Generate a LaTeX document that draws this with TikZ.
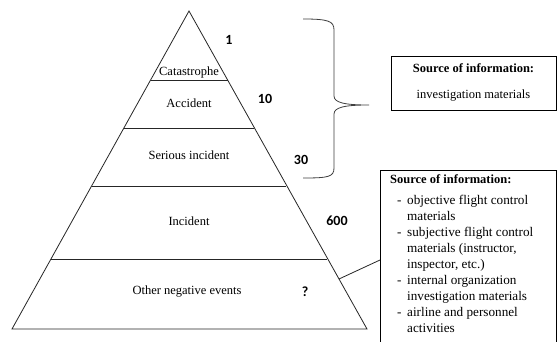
\documentclass[tikz,border=0pt]{standalone}
\usepackage{fontspec}
\setmainfont{Liberation Serif}
\newfontfamily\numfont{Carlito}
\begin{document}
\begin{tikzpicture}[x=1pt,y=-1pt,
  lvl/.style={font=\fontsize{12.5}{15}\selectfont, inner sep=0pt},
  num/.style={font=\numfont\bfseries\fontsize{14}{16}\selectfont, inner sep=0pt},
  edge/.style={draw=black!85, line width=0.8pt},
  srcbox/.style={draw=black, line width=0.8pt}]
\useasboundingbox (0,0) rectangle (557,342);
\fill[white] (0,0) rectangle (557,342);
% pyramid
\coordinate (apex) at (189,11);
\coordinate (bl) at (12,329);
\coordinate (br) at (367,329);
\draw[edge] (bl) -- (apex) -- (br) -- cycle;
\draw[edge] (150.5,80) -- (227.5,80);
\draw[edge] (124,128) -- (254,128);
\draw[edge] (92,186) -- (286,186);
\draw[edge] (51,259) -- (327,259);
% level labels
\node[lvl] (cat) at (189,72) {Catastrophe};
\node[lvl] (acc) at (189,103) {Accident};
\node[lvl] (ser) at (189,155) {Serious incident};
\node[lvl] (inc) at (189,221) {Incident};
\node[lvl] (oth) at (187,292) {Other negative events};
% numbers
\node[num] (n1) at (229,40) {1};
\node[num] (n10) at (265,99) {10};
\node[num] (n30) at (301,160) {30};
\node[num] (n600) at (337,221) {600};
\node[num] (nq) at (305,292) {?};
% brace
\draw[line width=0.8pt, black!75] (303,19) .. controls (328,19) and (334,21) .. (334,30) -- (334,96)
  .. controls (334,103) and (346,105) .. (369,105)
  .. controls (346,105) and (334,107) .. (334,114) -- (334,168)
  .. controls (334,177) and (328,178) .. (303,178);
% box 1
\node[srcbox, minimum width=165pt, minimum height=54pt] (box1) at (473.5,83) {};
\node[lvl, font=\fontsize{12.5}{15}\selectfont\bfseries] (t1) at (473.5,68) {Source of information:};
\node[lvl] (s1) at (473.5,96) {investigation materials};
% box 2
\draw[srcbox] (380,350) -- (380,170) -- (556,170) -- (556,350);
\coordinate (b2edge) at (380,260);
\node[anchor=north west, align=left, inner sep=0pt,
      font=\fontsize{13.2}{15.9}\selectfont] (t2) at (390,174)
  {{\fontsize{12.5}{15}\selectfont\textbf{Source of information:}}\\[6pt]
   \hspace*{7pt}\makebox[10pt][l]{-}objective flight control\\
   \hspace*{17pt}materials\\
   \hspace*{7pt}\makebox[10pt][l]{-}subjective flight control\\
   \hspace*{17pt}materials (instructor,\\
   \hspace*{17pt}inspector, etc.)\\
   \hspace*{7pt}\makebox[10pt][l]{-}internal organization\\
   \hspace*{17pt}investigation materials\\
   \hspace*{7pt}\makebox[10pt][l]{-}airline and personnel\\
   \hspace*{17pt}activities};
% connector
\coordinate (pedge) at (339,279);
\draw[edge] (pedge) -- (b2edge);
\end{tikzpicture}
\end{document}
